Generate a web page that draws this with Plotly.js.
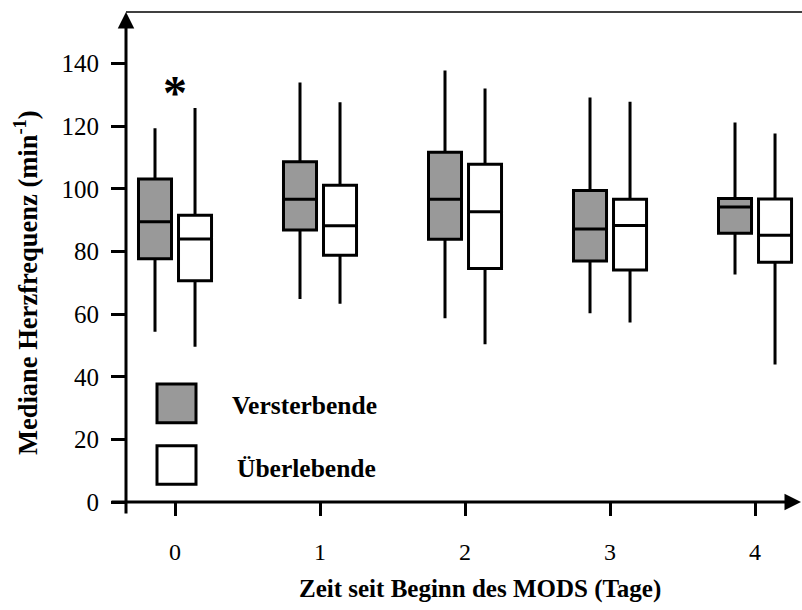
<!DOCTYPE html>
<html>
<head>
<meta charset="utf-8">
<script src="https://cdn.plot.ly/plotly-3.0.1.min.js"></script>
<style>html,body{margin:0;padding:0;background:#fff;}#chart{width:802px;height:610px;}</style>
</head>
<body>
<div id="chart"></div>
<script>
// Days since MODS onset
const days = ['0', '1', '2', '3', '4'];
const tickLabels = ['0', '1', '2', '3', '4'];

// Versterbende (non-survivors)
const dieLower  = [54.4, 64.8, 58.7, 60.3, 72.7];
const dieQ1     = [77.7, 86.9, 83.9, 77.0, 85.8];
const dieMedian = [89.5, 96.7, 96.7, 87.2, 94.2];
const dieQ3     = [103.2, 108.7, 111.7, 99.5, 96.9];
const dieUpper  = [119.4, 134.0, 137.8, 129.2, 121.2];

// Überlebende (survivors)
const surLower  = [49.6, 63.3, 50.4, 57.3, 43.9];
const surQ1     = [70.7, 78.8, 74.6, 74.1, 76.6];
const surMedian = [84.0, 88.2, 92.7, 88.3, 85.2];
const surQ3     = [91.6, 101.2, 107.9, 96.7, 96.8];
const surUpper  = [125.8, 127.7, 132.1, 127.8, 117.7];

const seriesNames = ['Versterbende', 'Überlebende'];
const xTitle = 'Zeit seit Beginn des MODS (Tage)';
const yTitle = 'Mediane Herzfrequenz (min<sup>-1</sup>)';
const sigDay = '0';
const sigValue = 133;

const serif = "'Liberation Serif', 'Times New Roman', Times, serif";

const traces = [
  {
    type: 'box', name: seriesNames[0], x: days,
    lowerfence: dieLower, q1: dieQ1, median: dieMedian, q3: dieQ3, upperfence: dieUpper,
    fillcolor: '#999999', line: {color: '#000000', width: 3},
    whiskerwidth: 0, boxpoints: false, hoverinfo: 'skip'
  },
  {
    type: 'box', name: seriesNames[1], x: days,
    lowerfence: surLower, q1: surQ1, median: surMedian, q3: surQ3, upperfence: surUpper,
    fillcolor: '#ffffff', line: {color: '#000000', width: 3},
    whiskerwidth: 0, boxpoints: false, hoverinfo: 'skip'
  }
];

const W = 676, H = 490; // plot area px
function px(x) { return (x - 126) / W; }
function py(y) { return (502 - y) / H; }

const layout = {
  width: 802, height: 610,
  margin: {l: 126, r: 0, t: 12, b: 108, pad: 0},
  paper_bgcolor: '#ffffff', plot_bgcolor: '#ffffff',
  showlegend: false,
  boxmode: 'group', boxgap: 0.448, boxgroupgap: 0.175,
  font: {family: serif, color: '#000000', size: 24},
  xaxis: {
    type: 'category', categoryorder: 'array', categoryarray: days,
    tickvals: days, ticktext: tickLabels,
    range: [-0.338, 4.324],
    showgrid: false, zeroline: false, showline: false,
    ticks: 'outside', ticklen: 13, tickwidth: 3, tickcolor: '#000000',
    tickfont: {family: serif, size: 24, color: '#000000'},
    ticklabelstandoff: 15
  },
  yaxis: {
    range: [0, 156.5], dtick: 20, tick0: 0,
    showgrid: false, zeroline: false, showline: false,
    ticks: 'outside', ticklen: 14, tickwidth: 3, tickcolor: '#000000',
    tickfont: {family: serif, size: 25, color: '#000000'},
    ticklabelstandoff: 7
  },
  shapes: [
    // top frame line
    {type: 'line', xref: 'paper', yref: 'paper', x0: 0, x1: 1, y0: 1, y1: 1, line: {color: '#000000', width: 1.5}},
    // legend swatches
    {type: 'rect', xref: 'paper', yref: 'paper', x0: px(157), x1: px(196), y0: py(422.7), y1: py(384), fillcolor: '#999999', line: {color: '#000000', width: 3}},
    {type: 'rect', xref: 'paper', yref: 'paper', x0: px(157), x1: px(196), y0: py(484.3), y1: py(445.7), fillcolor: '#ffffff', line: {color: '#000000', width: 3}}
  ],
  annotations: [
    // y axis with arrow
    {xref: 'paper', yref: 'paper', x: 0, y: 1, axref: 'pixel', ayref: 'pixel', ax: 0, ay: 503, text: '', showarrow: true, arrowhead: 2, arrowwidth: 3, arrowsize: 1.1, arrowcolor: '#000000', standoff: 0},
    // x axis with arrow
    {xref: 'paper', yref: 'paper', x: 1, y: 0, axref: 'pixel', ayref: 'pixel', ax: -692, ay: 0, text: '', showarrow: true, arrowhead: 2, arrowwidth: 3, arrowsize: 1.1, arrowcolor: '#000000', standoff: 0},
    // axis titles
    {xref: 'paper', yref: 'paper', x: px(480), y: py(589), xanchor: 'center', yanchor: 'middle', text: '<b>' + xTitle + '</b>', showarrow: false, font: {family: serif, size: 25, color: '#000000'}},
    {xref: 'paper', yref: 'paper', x: px(26), y: py(283), xanchor: 'center', yanchor: 'middle', textangle: -90, text: '<b>' + yTitle + '</b>', showarrow: false, font: {family: serif, size: 26.5, color: '#000000'}},
    // significance mark
    {xref: 'x', yref: 'y', x: sigDay, y: sigValue, text: '<b>*</b>', showarrow: false, font: {family: serif, size: 48, color: '#000000'}, yshift: -7},
    // legend labels
    {xref: 'paper', yref: 'paper', x: px(230), y: py(405.5), xanchor: 'left', yanchor: 'middle', text: '<b>' + seriesNames[0] + '</b>', showarrow: false, font: {family: serif, size: 25.5, color: '#000000'}},
    {xref: 'paper', yref: 'paper', x: px(234.5), y: py(468), xanchor: 'left', yanchor: 'middle', text: '<b>' + seriesNames[1] + '</b>', showarrow: false, font: {family: serif, size: 25.5, color: '#000000'}}
  ]
};

Plotly.newPlot('chart', traces, layout, {staticPlot: true, displayModeBar: false});
</script>
</body>
</html>
